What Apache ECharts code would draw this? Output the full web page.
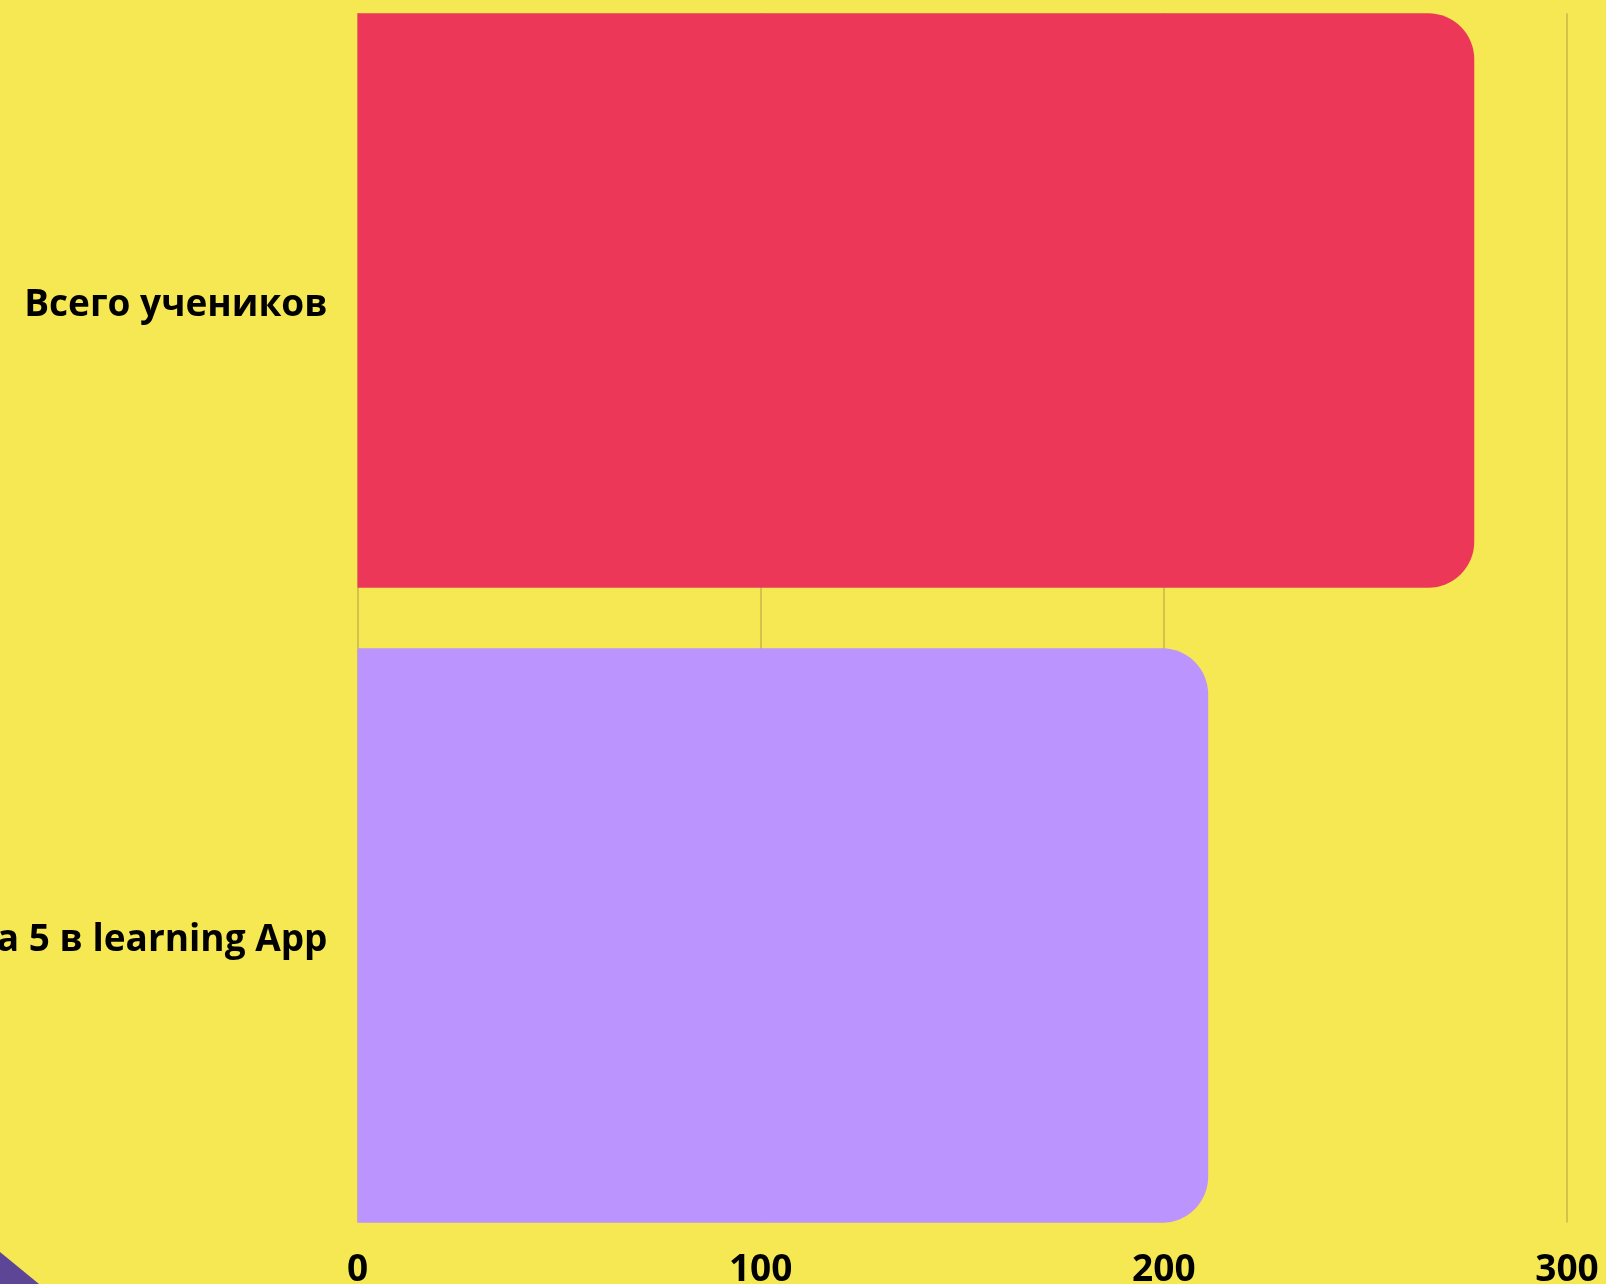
<!DOCTYPE html>
<html>
<head>
<meta charset="utf-8">
<script src="https://cdn.jsdelivr.net/npm/echarts@6/dist/echarts.min.js"></script>
<style>
html,body{margin:0;padding:0;background:#F5E852;}
#chart{width:1606px;height:1284px;}
</style>
</head>
<body>
<div id="chart"></div>
<script>
const categories = ['Всего учеников', 'Выполнили на 5 в learning App'];
const values = [277, 211];
const barColors = ['#EC3758', '#BB94FD'];
const xTicks = [0, 100, 200, 300];

const chart = echarts.init(document.getElementById('chart'));
const font = '"Open Sans", "Noto Sans", sans-serif';
const option = {
  backgroundColor: '#F5E852',
  animation: false,
  graphic: [{
    type: 'polygon',
    shape: { points: [[0, 1252], [39, 1284], [0, 1284]] },
    style: { fill: '#5E4696' },
    z: 0
  }],
  grid: [
    { left: 357.5, right: 39, top: 13.3, bottom: 61.5, containLabel: false, outerBoundsMode: 'none' },
    { left: 357.5, right: 39, top: -17, bottom: 31, containLabel: false, outerBoundsMode: 'none' }
  ],
  xAxis: [
    {
      gridIndex: 0, type: 'value', min: xTicks[0], max: xTicks[xTicks.length - 1], interval: 100,
      axisLine: { show: false }, axisTick: { show: false },
      splitLine: { show: true, lineStyle: { color: '#C4B74A', width: 1.5 } },
      axisLabel: { color: '#000', fontFamily: font, fontWeight: 'bold', fontSize: 37, margin: 29 }
    },
    {
      gridIndex: 1, type: 'value', min: 0, max: 300, show: false
    }
  ],
  yAxis: [
    {
      gridIndex: 0, type: 'category', data: ['a'], show: false
    },
    {
      gridIndex: 1, type: 'category', data: categories, inverse: true,
      axisLine: { show: false }, axisTick: { show: false },
      axisLabel: { color: '#000', fontFamily: font, fontWeight: 'bold', fontSize: 37, margin: 30, verticalAlign: 'top', lineHeight: 10 }
    }
  ],
  series: [{
    type: 'bar',
    xAxisIndex: 1, yAxisIndex: 1,
    barCategoryGap: '9.55%',
    data: values.map((v, i) => ({ value: v, itemStyle: { color: barColors[i] } })),
    itemStyle: { borderRadius: [0, 46, 46, 0] },
    z: 3
  }]
};
chart.setOption(option);
</script>
</body>
</html>
